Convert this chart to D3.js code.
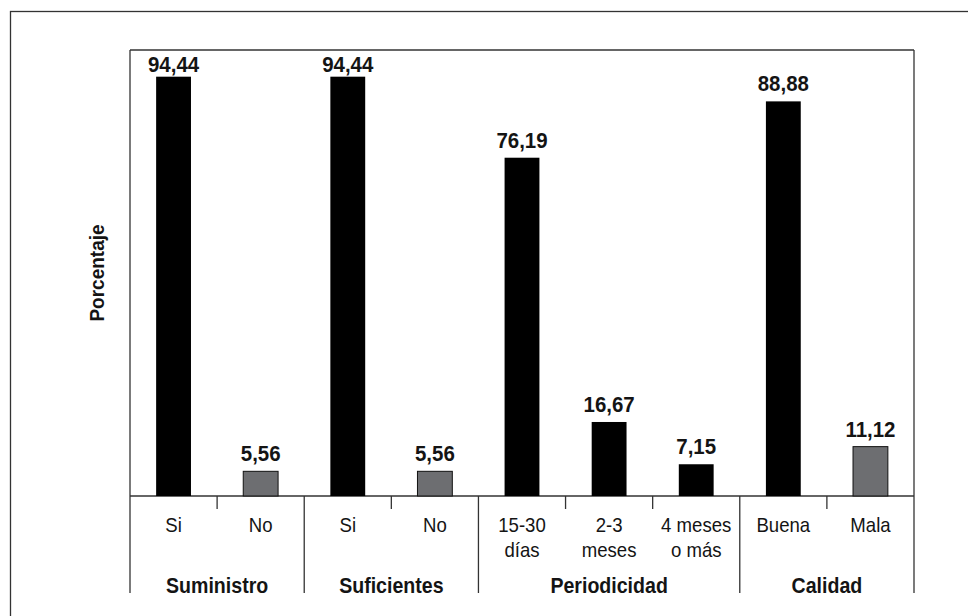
<!DOCTYPE html>
<html>
<head>
<meta charset="utf-8">
<script src="https://cdn.jsdelivr.net/npm/d3@7"></script>
<style>
  body { margin: 0; background: #fff; }
  svg { display: block; }
  .cond { font-family: "Liberation Sans", Arial, sans-serif; fill: #141414; }
</style>
</head>
<body>
<svg width="968" height="616"></svg>
<script>
// ---> Data
const categories = ["Si", "No", "Si", "No", "15-30 días", "2-3 meses", "4 meses o más", "Buena", "Mala"];
const categoryLines = [["Si"], ["No"], ["Si"], ["No"], ["15-30", "días"], ["2-3", "meses"], ["4 meses", "o más"], ["Buena"], ["Mala"]];
const values = [94.44, 5.56, 94.44, 5.56, 76.19, 16.67, 7.15, 88.88, 11.12];
const valueLabels = ["94,44", "5,56", "94,44", "5,56", "76,19", "16,67", "7,15", "88,88", "11,12"];
const barKind = ["pos", "neg", "pos", "neg", "pos", "pos", "pos", "pos", "neg"];
const groupNames = ["Suministro", "Suficientes", "Periodicidad", "Calidad"];
const groupSizes = [2, 2, 3, 2];
const yTitle = "Porcentaje";

// ---> Layout
const svg = d3.select("svg");
const plotLeft = 130, plotRight = 914, plotTop = 50, plotBase = 496, plotBottom = 593;

const ids = categories.map((c, i) => i);
const x = d3.scaleBand().domain(ids).range([plotLeft, plotRight]).paddingInner(0.6).paddingOuter(0.3);
const y = d3.scaleLinear().domain([0, 100]).range([plotBase, 52]);
const color = d3.scaleOrdinal().domain(["pos", "neg"]).range(["#000000", "#6d6e71"]);

const step = x.step();
const edge = (i) => x(i) - (step - x.bandwidth()) / 2;
const mid = (i) => x(i) + x.bandwidth() / 2;

// outer border
svg.append("rect")
    .attr("x", 10.5).attr("y", 11.5)
    .attr("width", 1000).attr("height", 700)
    .attr("fill", "none").attr("stroke", "#333").attr("stroke-width", 1.3);

// frame
const frame = svg.append("g").attr("stroke", "#333").attr("stroke-width", 1.3);
frame.append("line").attr("x1", plotLeft).attr("x2", plotRight).attr("y1", plotTop).attr("y2", plotTop);
frame.append("line").attr("x1", plotLeft).attr("x2", plotLeft).attr("y1", plotTop).attr("y2", plotBottom);
frame.append("line").attr("x1", plotRight).attr("x2", plotRight).attr("y1", plotTop).attr("y2", plotBottom);
frame.append("line").attr("x1", plotLeft).attr("x2", plotRight).attr("y1", plotBase).attr("y2", plotBase);

// group separators and ticks
let start = 0;
const groupRanges = groupSizes.map(n => {
    const r = [start, start + n];
    start += n;
    return r;
});
groupRanges.forEach((r, gi) => {
    for (let i = r[0] + 1; i < r[1]; i++) {
        frame.append("line").attr("x1", edge(i)).attr("x2", edge(i)).attr("y1", plotBase).attr("y2", plotBase + 13);
    }
    if (gi > 0) {
        frame.append("line").attr("x1", edge(r[0])).attr("x2", edge(r[0])).attr("y1", plotBase).attr("y2", plotBottom);
    }
});

// bars
svg.append("g")
    .selectAll("rect")
    .data(ids)
    .join("rect")
    .attr("x", i => x(i))
    .attr("y", i => y(values[i]))
    .attr("width", x.bandwidth())
    .attr("height", i => plotBase - y(values[i]))
    .attr("fill", i => color(barKind[i]))
    .attr("stroke", i => barKind[i] === "neg" ? "#111" : "none")
    .attr("stroke-width", 1);

// value labels (squeezed a bit to look condensed)
svg.append("g")
    .selectAll("text")
    .data(ids)
    .join("text")
    .attr("class", "cond")
    .attr("transform", i => `translate(${mid(i)},${Math.max(y(values[i]) - 10, 72)}) scale(0.93,1)`)
    .attr("text-anchor", "middle")
    .style("font-size", "22px")
    .style("font-weight", "bold")
    .text(i => valueLabels[i]);

// category labels
const catText = svg.append("g")
    .selectAll("text")
    .data(ids)
    .join("text")
    .attr("class", "cond")
    .attr("transform", i => `translate(${mid(i)},532) scale(0.93,1)`)
    .attr("text-anchor", "middle")
    .style("font-size", "20px");
catText.selectAll("tspan")
    .data(i => categoryLines[i].map(t => ({i, t})))
    .join("tspan")
    .attr("x", 0)
    .attr("y", (d, k) => k * 25)
    .text(d => d.t);

// group labels
svg.append("g")
    .selectAll("text")
    .data(groupRanges)
    .join("text")
    .attr("class", "cond")
    .attr("transform", r => {
        const cx = (edge(r[0]) + (r[1] < ids.length ? edge(r[1]) : plotRight)) / 2;
        return `translate(${cx},593) scale(0.89,1)`;
    })
    .attr("text-anchor", "middle")
    .style("font-size", "22px")
    .style("font-weight", "bold")
    .text((r, gi) => groupNames[gi]);

// y title
svg.append("text")
    .attr("class", "cond")
    .attr("transform", `translate(104,${(plotTop + plotBase) / 2}) rotate(-90) scale(0.95,1)`)
    .attr("text-anchor", "middle")
    .style("font-size", "20px")
    .style("font-weight", "bold")
    .text(yTitle);
</script>
</body>
</html>
